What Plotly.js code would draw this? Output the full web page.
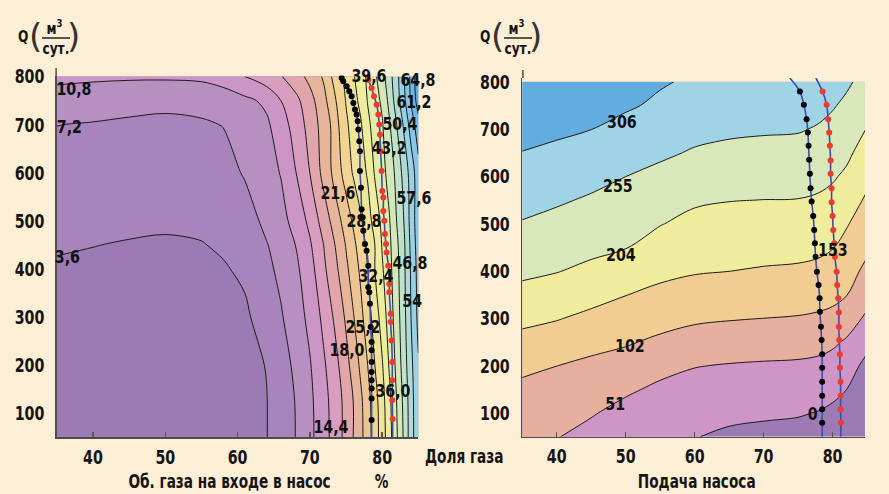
<!DOCTYPE html>
<html><head><meta charset="utf-8">
<script src="https://cdn.plot.ly/plotly-3.0.1.min.js"></script>
<style>html,body{margin:0;padding:0;background:#fdeed6;} #chart{width:889px;height:494px;}</style>
</head><body><div id="chart"></div>
<script>
// ---------- LEFT PANEL: gas fraction at pump inlet (%) ----------
const leftX = [35,40,45,50,55,58,61,64,66,68,70,72,73,74,75,76,77,78,79,80,81,82,83,84,85];
const leftY = [50,125,200,300,400,450,500,600,700,750,800];
const leftZ = [
  [1.0,0.9,0.85,0.8,1.0,1.3,2.0,3.5,5.35,7.22,9.87,13.14,15.0,17.0,19.2,21.62,24.17,27.16,30.6,34.2,38.25,42.75,47.3,52.46,56.8],
  [1.4,1.25,1.15,1.1,1.3,1.6,2.3,3.5,5.4,7.3,10.0,13.32,15.16,17.05,19.2,21.62,24.37,27.49,30.96,34.56,38.7,43.22,47.7,52.46,57.15],
  [1.8,1.65,1.55,1.5,1.7,2.0,2.7,3.7,5.7,7.87,10.53,14.04,16.0,18.02,20.4,22.98,25.8,28.82,32.42,35.67,40.0,44.1,48.6,53.1,57.3],
  [2.5,2.4,2.3,2.2,2.4,2.7,3.2,4.69,6.87,9.11,11.7,15.46,17.58,19.8,22.15,24.92,27.69,30.76,34.04,37.6,41.24,45.0,49.2,54.05,58.5],
  [3.3,3.15,3.0,2.9,3.1,3.4,4.0,6.4,8.0,10.0,12.96,17.49,19.69,21.86,24.43,26.88,29.4,32.42,36.02,39.2,42.09,45.6,49.6,54.45,58.95],
  [3.85,3.65,3.45,3.3,3.5,3.9,5.0,7.0,8.74,10.82,13.93,18.23,20.48,22.89,25.44,27.84,30.46,33.23,36.02,39.86,42.43,46.0,49.68,54.9,59.4],
  [4.4,4.2,4.1,4.0,4.1,4.5,5.5,8.1,9.74,11.9,15.3,19.8,22.08,24.48,26.88,29.31,31.89,34.46,37.44,40.56,42.96,46.82,50.42,55.35,59.85],
  [5.7,5.5,5.3,5.2,5.4,5.8,7.53,9.53,10.96,14.24,18.02,22.95,25.22,27.77,30.34,32.74,34.46,36.4,40.0,42.0,44.51,47.88,51.6,55.6,59.85],
  [7.25,7.0,6.75,6.6,6.8,7.3,9.2,10.2,12.69,15.9,19.27,23.4,25.53,28.82,31.8,33.77,35.49,38.8,41.04,42.84,46.4,50.38,54.51,59.2,63.45],
  [9.5,8.8,8.2,7.9,8.3,9.0,10.0,11.52,14.42,16.97,20.27,24.35,27.0,29.91,32.6,34.6,36.9,39.79,41.68,43.92,47.83,52.2,56.57,61.71,66.5],
  [11.5,11.4,11.3,11.3,11.5,12.3,14.42,16.44,17.8,20.04,22.61,25.8,28.82,31.05,33.3,35.55,37.92,40.28,42.53,45.5,48.96,52.8,57.15,62.23,67.4]
];
const leftColors = ['#9c7bb5','#a884bd','#b78fc1','#cb95c6','#d89dbf','#e0a6ab','#e7b59c','#edc594','#f1d494',
  '#f0e49a','#eeec9f','#e2edab','#d2e8bb','#c0e2c9','#aedbd8','#9ad2e4','#86c6e8','#71b8e4','#5ea9dd'];
const leftLabelText = ['10,8','7,2','3,6','39,6','64,8','61,2','50,4','43,2','21,6','57,6','28,8','46,8','32,4','54','25,2','18,0','36,0','14,4'];
const leftLabelX = [37.4,36.8,36.5,78.2,85.0,84.4,82.5,80.9,73.9,84.4,77.5,83.8,79.2,84.2,77.4,75.2,81.5,72.9];
const leftLabelY = [775,697,426,802,794,748,703,652,558,548,500,414,386,334,280,232,148,72];

const leftBlackX = [74.39,74.62,75.09,75.45,75.78,76.01,76.24,76.47,76.61,76.70,76.84,76.93,76.93,77.07,77.16,77.30,77.39,77.62,77.85,78.08,78.08,78.22,78.31,78.41,78.54,78.54,78.54,78.54,78.54,78.54,78.54,78.54];
const leftBlackY = [796.6,789.8,779.4,769.1,758.7,744.9,731.1,720.8,707,689.7,665.5,644.8,603.4,568.9,524.1,506.8,479.2,451.6,437.8,406.7,361.9,351.5,327.4,279.0,248.0,230.7,206.6,185.9,168.6,151.4,130.7,85.8];
const leftRedX = [78.08,78.54,78.87,79.24,79.47,79.60,79.70,79.79,79.93,80.02,80.16,80.16,80.30,80.39,80.53,80.62,80.85,80.99,80.99,81.17,81.17,81.31,81.40,81.40,81.40,81.45];
const leftRedY = [793.2,776,758.7,741.4,720.8,700,679.3,644.8,603.4,562,548.2,520.6,499.9,472.3,451.6,434.3,406.7,368.8,351.5,306.7,289.4,251.4,206.6,168.6,127.2,87.9];
const leftBlackEnds = {top:[74.2,801], bottom:[78.55,50]};
const leftRedEnds = {top:[77.85,801], bottom:[81.45,50]};

// ---------- RIGHT PANEL: pump feed ----------
const rightX = [35,40,45,50,55,60,65,70,75,78,80,82,85];
const rightY = [50,100,150,200,250,300,350,400,450,500,550,600,650,700,750,800];
const rightZ = [
  [60,53,36,14.9,7,1.7,-8.3,-12.9,-16.6,-23.4,-31.7,-45.5,-80],
  [76,69.5,54.8,36,24.6,18.5,10.6,6.7,3.6,-2.1,-9.7,-22.8,-60],
  [92,85.8,73.7,58.3,42.2,35.2,29.5,26.3,23.9,19.1,12.3,0.5,-42.5],
  [112,102.3,92.6,82.6,65.2,52.7,48.4,45.9,44.1,40.4,34.3,22.8,-14.2],
  [138,128.8,115.4,106.7,93.5,81.7,76.2,72.7,70.1,65.7,58.5,45.5,14.2],
  [165,155.6,142.3,130.3,118.5,109.3,104.9,101.8,99.1,95,89.6,74.3,42.5],
  [191,181,168.3,154,142.1,133.6,129.2,125.6,123.1,119.2,114.2,103.8,67.2],
  [213,205.8,193.8,180.3,164.3,156.5,153.3,149.2,146.4,141.7,134.6,121.3,90.4],
  [233,224,214.6,205.6,185.2,174.1,170.6,168,166.2,162.1,154.8,138.9,110.8],
  [252,242,232,222,205.9,191.7,187.8,185.8,184.6,180.3,173,156.9,128.4],
  [270,260.5,249.7,238.5,224.8,210.1,205.2,203.6,202.9,198.5,191.3,176.5,146],
  [288,278.7,268.2,255.2,243.7,230.5,225,222.6,221.5,216.3,209.1,196.2,164.3],
  [305,297,287,273.9,262.3,250.9,244.7,241.7,240.1,233.9,226.1,213.9,183.2],
  [320,314,306.5,292.8,280.5,267.9,262.7,260,258.2,251.5,243.1,230.3,202.1],
  [335,329,323,311.5,298.7,283.9,278.9,276.5,274.1,266.1,258.5,246.8,221],
  [350,345,340,330,310,300,295,293,290,280,270,262,240]
];
const rightColors = ['#9c7bb5','#cf95c7','#e6af9e','#f1cd94','#efec9c','#d9e8ba','#9fd3e6','#62addf'];
const rightLabelText = ['306','255','204','153','102','51','0'];
const rightLabelX = [49.5,48.9,49.3,80.1,50.6,48.5,77.1];
const rightLabelY = [716,580,436,445,242,121,100];

const rightBlackX = [75.26,75.84,76.23,76.42,76.52,76.61,76.71,76.81,76.96,77.19,77.33,77.43,77.54,77.72,77.97,78.12,78.16,78.30,78.41,78.49,78.49,78.49,78.49,78.49,78.49];
const rightBlackY = [779.4,751.3,721,692.7,664.6,635,605.4,575.2,546.8,516.6,487,458.9,430.5,398.8,370.7,342.6,314.3,282.6,254.4,224.2,195.9,166.3,136.7,107.9,79.6];
const rightRedX = [78.55,79.13,79.36,79.51,79.61,79.71,79.71,79.86,79.86,80.0,80.09,80.23,80.33,80.58,80.67,80.81,80.91,80.91,80.96,81.06,81.06,81.16,81.16,81.16,81.2];
const rightRedY = [779.4,751.3,721,692.7,664.6,633.5,605.4,575.2,545.6,516.6,487,458.9,430.5,398.8,370.7,342.6,312.2,282.6,254.4,224.2,195.9,166.3,136.7,107.9,79.6];
const rightBlackEnds = {top:[73.8,808], bottom:[78.49,50]};
const rightRedEnds = {top:[77.58,808], bottom:[81.2,50]};

const ticksX = [40,50,60,70,80];
const ticksY = [100,200,300,400,500,600,700,800];

// ---------- build ----------
const W = 889, H = 494;
const FONT = '"Liberation Sans Narrow", "DejaVu Sans Condensed", "Arial Narrow", sans-serif';
const px = v => v / W, py = v => 1 - v / H;
const scale = cols => cols.map((c, i) => [i / (cols.length - 1), c]);

function contourTrace(x, y, z, cols, start, end, size, xa, ya) {
  return {type:'contour', x:x, y:y, z:z, xaxis:xa, yaxis:ya, autocontour:false,
    contours:{start:start, end:end, size:size, coloring:'fill', showlabels:false},
    colorscale:scale(cols), showscale:false, hoverinfo:'skip',
    line:{color:'#1b1b1b', width:1, smoothing:1}};
}
function curve(xs, ys, ends, color, xa, ya) {
  const lx = [ends.top[0]].concat(xs, [ends.bottom[0]]);
  const ly = [ends.top[1]].concat(ys, [ends.bottom[1]]);
  return [
    {type:'scatter', mode:'lines', x:lx, y:ly, xaxis:xa, yaxis:ya, line:{color:'#3d4dad', width:1.6, shape:'spline'}, hoverinfo:'skip'},
    {type:'scatter', mode:'markers', x:xs, y:ys, xaxis:xa, yaxis:ya, marker:{color:color, size:6}, hoverinfo:'skip'}
  ];
}

const data = [
  contourTrace(leftX, leftY, leftZ, leftColors, 3.6, 64.8, 3.6, 'x', 'y'),
  contourTrace(rightX, rightY, rightZ, rightColors, 0, 306, 51, 'x2', 'y2'),
  ...curve(leftBlackX, leftBlackY, leftBlackEnds, '#000000', 'x', 'y'),
  ...curve(leftRedX, leftRedY, leftRedEnds, '#f03a2e', 'x', 'y'),
  ...curve(rightBlackX, rightBlackY, rightBlackEnds, '#000000', 'x2', 'y2'),
  ...curve(rightRedX, rightRedY, rightRedEnds, '#f03a2e', 'x2', 'y2')
];

const tickFont = {family:FONT, size:20, color:'#151515', weight:'bold'};
function xAxis(domain, range) {
  return {domain:domain, range:range, tickvals:ticksX, ticks:'inside', ticklen:5, tickwidth:1.5, tickcolor:'#555',
    showline:true, linecolor:'#4d4d4d', linewidth:1.5, showgrid:false, zeroline:false, tickfont:tickFont,
    ticklabelstandoff:1, fixedrange:true};
}
function yAxis(domain, range) {
  return {domain:domain, range:range, tickvals:ticksY, ticks:'', showline:true, linecolor:'#4d4d4d', linewidth:1.5,
    showgrid:false, zeroline:false, tickfont:tickFont, ticklabelstandoff:7, fixedrange:true};
}

const labFont = {family:FONT, size:18, color:'#111', weight:'bold'};
const annotations = [];
leftLabelText.forEach((t, i) => annotations.push({xref:'x', yref:'y', x:leftLabelX[i], y:leftLabelY[i], text:t, showarrow:false, font:labFont}));
rightLabelText.forEach((t, i) => annotations.push({xref:'x2', yref:'y2', x:rightLabelX[i], y:rightLabelY[i], text:t, showarrow:false, font:labFont}));

const titleFont = {family:FONT, size:19, color:'#151515', weight:'bold'};
function paperText(text, x, y, font, anchor) {
  annotations.push({xref:'paper', yref:'paper', x:px(x), y:py(y), text:text, showarrow:false, font:font,
    xanchor:anchor || 'center', yanchor:'middle'});
}
paperText('Об. газа на входе в насос', 229, 481, titleFont);
paperText('%', 381, 481, titleFont);
paperText('Доля газа', 464, 456, titleFont);
paperText('Подача насоса', 696, 481, titleFont);

const qFont = {family:FONT, size:16, color:'#151515', weight:'bold'};
const parFont = {family:'"DejaVu Sans", sans-serif', size:34, color:'#333', weight:'normal'};
const shapes = [];
function qLabel(x0) {
  paperText('Q', x0, 37, qFont);
  paperText('(', x0 + 12, 36, parFont);
  paperText('м<sup>3</sup>', x0 + 31, 27, qFont);
  paperText('сут.', x0 + 33, 48, qFont);
  paperText(')', x0 + 50, 36, parFont);
  shapes.push({type:'line', xref:'paper', yref:'paper', x0:px(x0 + 19), x1:px(x0 + 47), y0:py(38), y1:py(38), line:{color:'#222', width:1.5}});
}
qLabel(23);
qLabel(485);

// y-axis lines extend a little above the plotting areas
shapes.push({type:'line', xref:'paper', yref:'paper', x0:px(56.1), x1:px(56.1), y0:py(76), y1:py(68), line:{color:'#4d4d4d', width:1.5}});
shapes.push({type:'line', xref:'paper', yref:'paper', x0:px(522.9), x1:px(522.9), y0:py(78), y1:py(70), line:{color:'#4d4d4d', width:1.5}});

const layout = {
  width:W, height:H, autosize:false, showlegend:false,
  paper_bgcolor:'#fdeed6', plot_bgcolor:'#fdeed6',
  margin:{l:0, r:0, t:0, b:0},
  xaxis: Object.assign(xAxis([56.85/W, 418.3/W], [35, 85]), {anchor:'y'}),
  yaxis: Object.assign(yAxis([1 - 437.3/H, 1 - 75.5/H], [50, 802]), {anchor:'x'}),
  xaxis2: Object.assign(xAxis([522.2/W, 865/W], [35, 84.7]), {anchor:'y2'}),
  yaxis2: Object.assign(yAxis([1 - 436.7/H, 1 - 78/H], [50, 808]), {anchor:'x2'}),
  annotations:annotations, shapes:shapes,
  font:{family:FONT}
};

// condense the bold lettering horizontally (the original uses a narrow typeface)
const squeeze = {'20px':0.79, '19px':0.8, '18px':0.88, '16px':0.85};
Plotly.newPlot('chart', data, layout, {displayModeBar:false, staticPlot:true}).then(gd => {
  gd.querySelectorAll('text').forEach(t => {
    const s = squeeze[t.style.fontSize];
    if (!s) return;
    const x = parseFloat(t.getAttribute('x')) || 0;
    const prev = t.getAttribute('transform') || '';
    t.setAttribute('transform', prev + ' translate(' + (x * (1 - s)) + ',0) scale(' + s + ',1)');
  });
});
</script></body></html>
